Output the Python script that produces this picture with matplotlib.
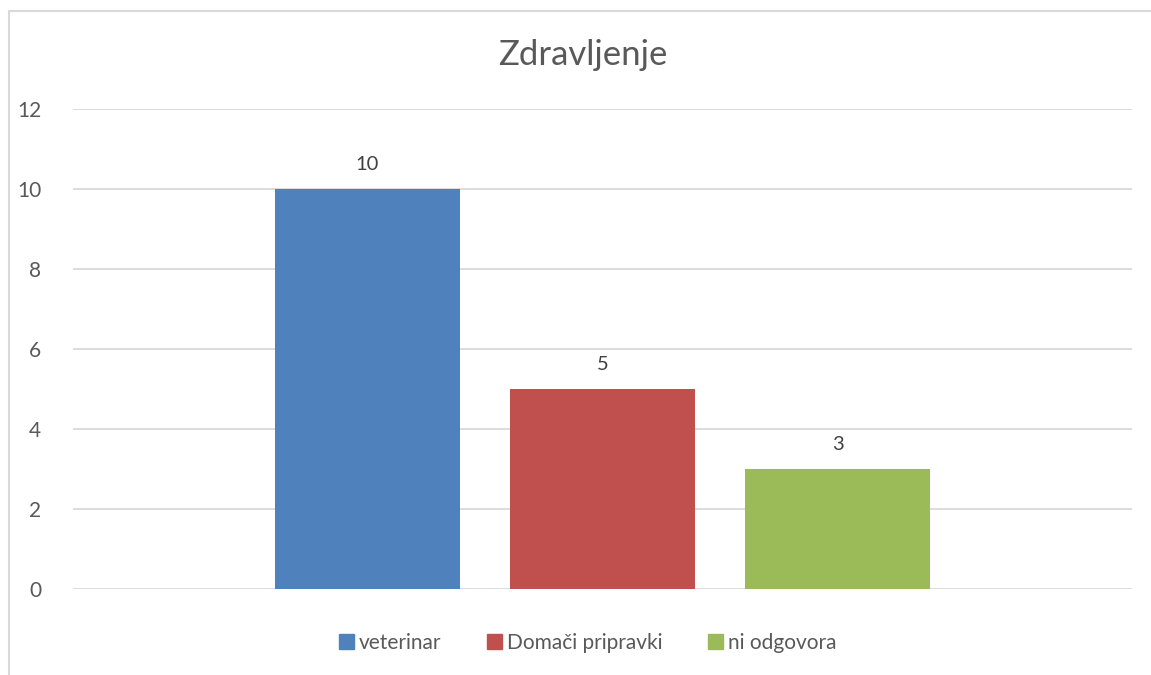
import matplotlib.pyplot as plt
from matplotlib.patches import Rectangle, Patch

categories = ["veterinar", "Domači pripravki", "ni odgovora"]
values = [10, 5, 3]
colors = ["#4F81BD", "#C0504D", "#9BBB59"]
yticks = [0, 2, 4, 6, 8, 10, 12]

plt.rcParams['font.family'] = ['Lato', 'DejaVu Sans']

W, H = 1151, 675
fig = plt.figure(figsize=(W / 100, H / 100), dpi=100)

# chart border (right/bottom run off the picture)
fig.patches.append(Rectangle((9 / W, -0.05), 1.1, 1 - 11 / H + 0.05,
                             transform=fig.transFigure, fill=False,
                             edgecolor="#D9D9D9", linewidth=1.5))

ax = fig.add_axes([73 / W, 1 - 589 / H, (1132 - 73) / W, (589 - 109) / H])

x = [-1, 0, 1]
for xi, v, c, lab in zip(x, values, colors, categories):
    ax.bar(xi, v, width=0.787, color=c, label=lab, zorder=3)
    ax.text(xi, v + 0.4, str(v), ha="center", va="bottom",
            fontsize=14.5, color="#404040")

ax.set_xlim(-2.253, 2.253)
ax.set_ylim(0, 12)
ax.set_yticks(yticks)
ax.set_xticks([])
ax.yaxis.grid(True, color="#D9D9D9", linewidth=1.3, zorder=0)
for s in ax.spines.values():
    s.set_visible(False)
ax.tick_params(axis="y", length=0, pad=23, labelsize=15, labelcolor="#595959")

fig.text(583 / W, 1 - 55 / H, "Zdravljenje", ha="center", va="center",
         fontsize=25, color="#595959")

handles = [Patch(color=c, label=l) for c, l in zip(colors, categories)]
fig.legend(handles=handles, loc="center", bbox_to_anchor=(588 / W, 1 - 643 / H),
           ncol=3, frameon=False, fontsize=15, handlelength=0.7,
           handleheight=0.7, handletextpad=0.25, columnspacing=2.2,
           labelcolor="#595959")

fig.savefig("out.png", dpi=100, facecolor="white")
